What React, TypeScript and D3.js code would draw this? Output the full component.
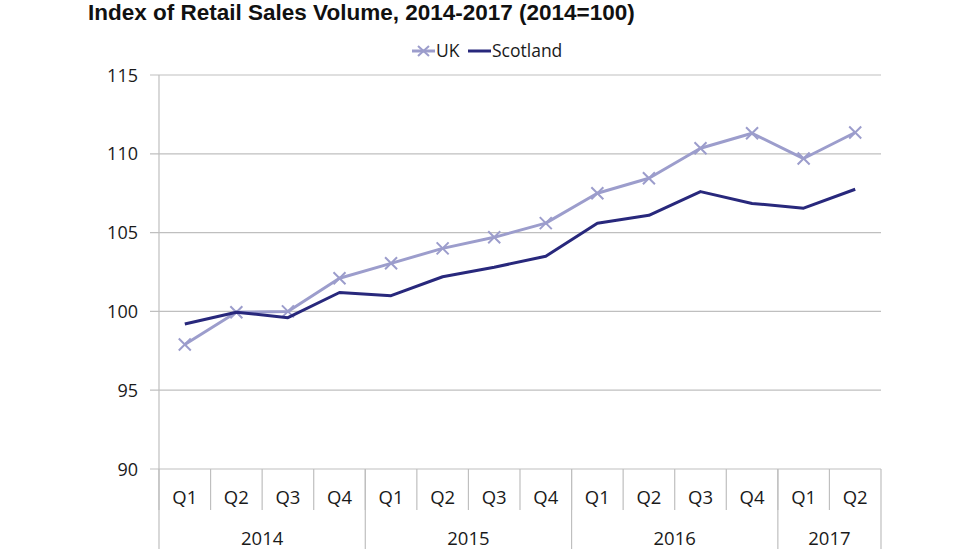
import React from "react";
import * as d3 from "d3";

const quarters = ["Q1","Q2","Q3","Q4","Q1","Q2","Q3","Q4","Q1","Q2","Q3","Q4","Q1","Q2"];
const years = ["2014","2015","2016","2017"];
const yearSpans = [4, 4, 4, 2];
const ukValues = [97.9, 99.95, 100.0, 102.1, 103.05, 104.0, 104.7, 105.6, 107.5, 108.45, 110.35, 111.3, 109.7, 111.35];
const scotlandValues = [99.2, 99.95, 99.6, 101.2, 101.0, 102.2, 102.8, 103.5, 105.6, 106.1, 107.6, 106.85, 106.55, 107.75];
const yTicks = [90, 95, 100, 105, 110, 115];

const W = 976, H = 549;
const left = 159, right = 881, top = 75, bottom = 469;
const UK_COLOR = "#9c9dcc";
const SC_COLOR = "#28287c";
const GRID = "#bfbfbf";
const FONT = "'Open Sans', sans-serif";
const TXT = "#1a1a1a";

export default function App() {
  const idx = quarters.map((_, i) => i);
  const x = d3.scaleBand<number>().domain(idx).range([left, right]).padding(0);
  const y = d3.scaleLinear().domain([90, 115]).range([bottom, top]);
  const cx = (i: number) => (x(i) as number) + x.bandwidth() / 2;
  const line = d3.line<number>().x((_, i) => cx(i)).y((d) => y(d));

  let acc = 0;
  const yearBounds = yearSpans.map((s) => {
    const start = acc;
    acc += s;
    return { start, end: acc };
  });
  const xEdge = (i: number) => (i >= quarters.length ? right : (x(i) as number));
  const m = 6;

  return (
    <svg width={W} height={H} style={{ position: "absolute", left: 0, top: 0, background: "#fff" }}>
      <rect width={W} height={H} fill="#fff" />
      <text x={88} y={20} fontFamily="'Liberation Sans', Arial, sans-serif" fontWeight="bold" fontSize={22.5} fill="#111">
        Index of Retail Sales Volume, 2014-2017 (2014=100)
      </text>
      {/* legend */}
      <g fontFamily={FONT} fontSize={17.5} fill={TXT}>
        <line x1={412} x2={435} y1={51} y2={51} stroke={UK_COLOR} strokeWidth={3} />
        <path d="M418,46 L429,56 M429,46 L418,56" stroke={UK_COLOR} strokeWidth={2} />
        <text x={436} y={57}>UK</text>
        <line x1={468} x2={491} y1={51} y2={51} stroke={SC_COLOR} strokeWidth={3} />
        <text x={492} y={57}>Scotland</text>
      </g>
      {/* gridlines */}
      {yTicks.map((t) => (
        <g key={t}>
          <line x1={150} x2={right} y1={y(t)} y2={y(t)} stroke={GRID} strokeWidth={1.2} />
          <text x={138} y={y(t) + 6.5} textAnchor="end" fontFamily={FONT} fontSize={18} fill={TXT}>
            {t}
          </text>
        </g>
      ))}
      <line x1={left} x2={left} y1={top} y2={bottom} stroke={GRID} strokeWidth={1.2} />
      {/* quarter ticks */}
      {idx.map((i) => (
        <g key={i}>
          <line x1={xEdge(i)} x2={xEdge(i)} y1={bottom} y2={510} stroke={GRID} strokeWidth={1.2} />
          <text x={cx(i)} y={504} textAnchor="middle" fontFamily={FONT} fontSize={18.5} fill={TXT}>
            {quarters[i]}
          </text>
        </g>
      ))}
      {yearBounds.map((b, k) => (
        <g key={years[k]}>
          <line x1={xEdge(b.start)} x2={xEdge(b.start)} y1={bottom} y2={H} stroke={GRID} strokeWidth={1.2} />
          <text x={(xEdge(b.start) + xEdge(b.end)) / 2} y={545} textAnchor="middle" fontFamily={FONT} fontSize={18.5} fill={TXT}>
            {years[k]}
          </text>
        </g>
      ))}
      <line x1={right} x2={right} y1={bottom} y2={H} stroke={GRID} strokeWidth={1.2} />
      {/* series */}
      <path d={line(ukValues) || ""} fill="none" stroke={UK_COLOR} strokeWidth={3} strokeLinejoin="round" />
      {ukValues.map((v, i) => (
        <path
          key={i}
          d={`M${cx(i) - m},${y(v) - m} L${cx(i) + m},${y(v) + m} M${cx(i) + m},${y(v) - m} L${cx(i) - m},${y(v) + m}`}
          stroke={UK_COLOR}
          strokeWidth={2}
        />
      ))}
      <path d={line(scotlandValues) || ""} fill="none" stroke={SC_COLOR} strokeWidth={3} strokeLinejoin="round" />
    </svg>
  );
}
